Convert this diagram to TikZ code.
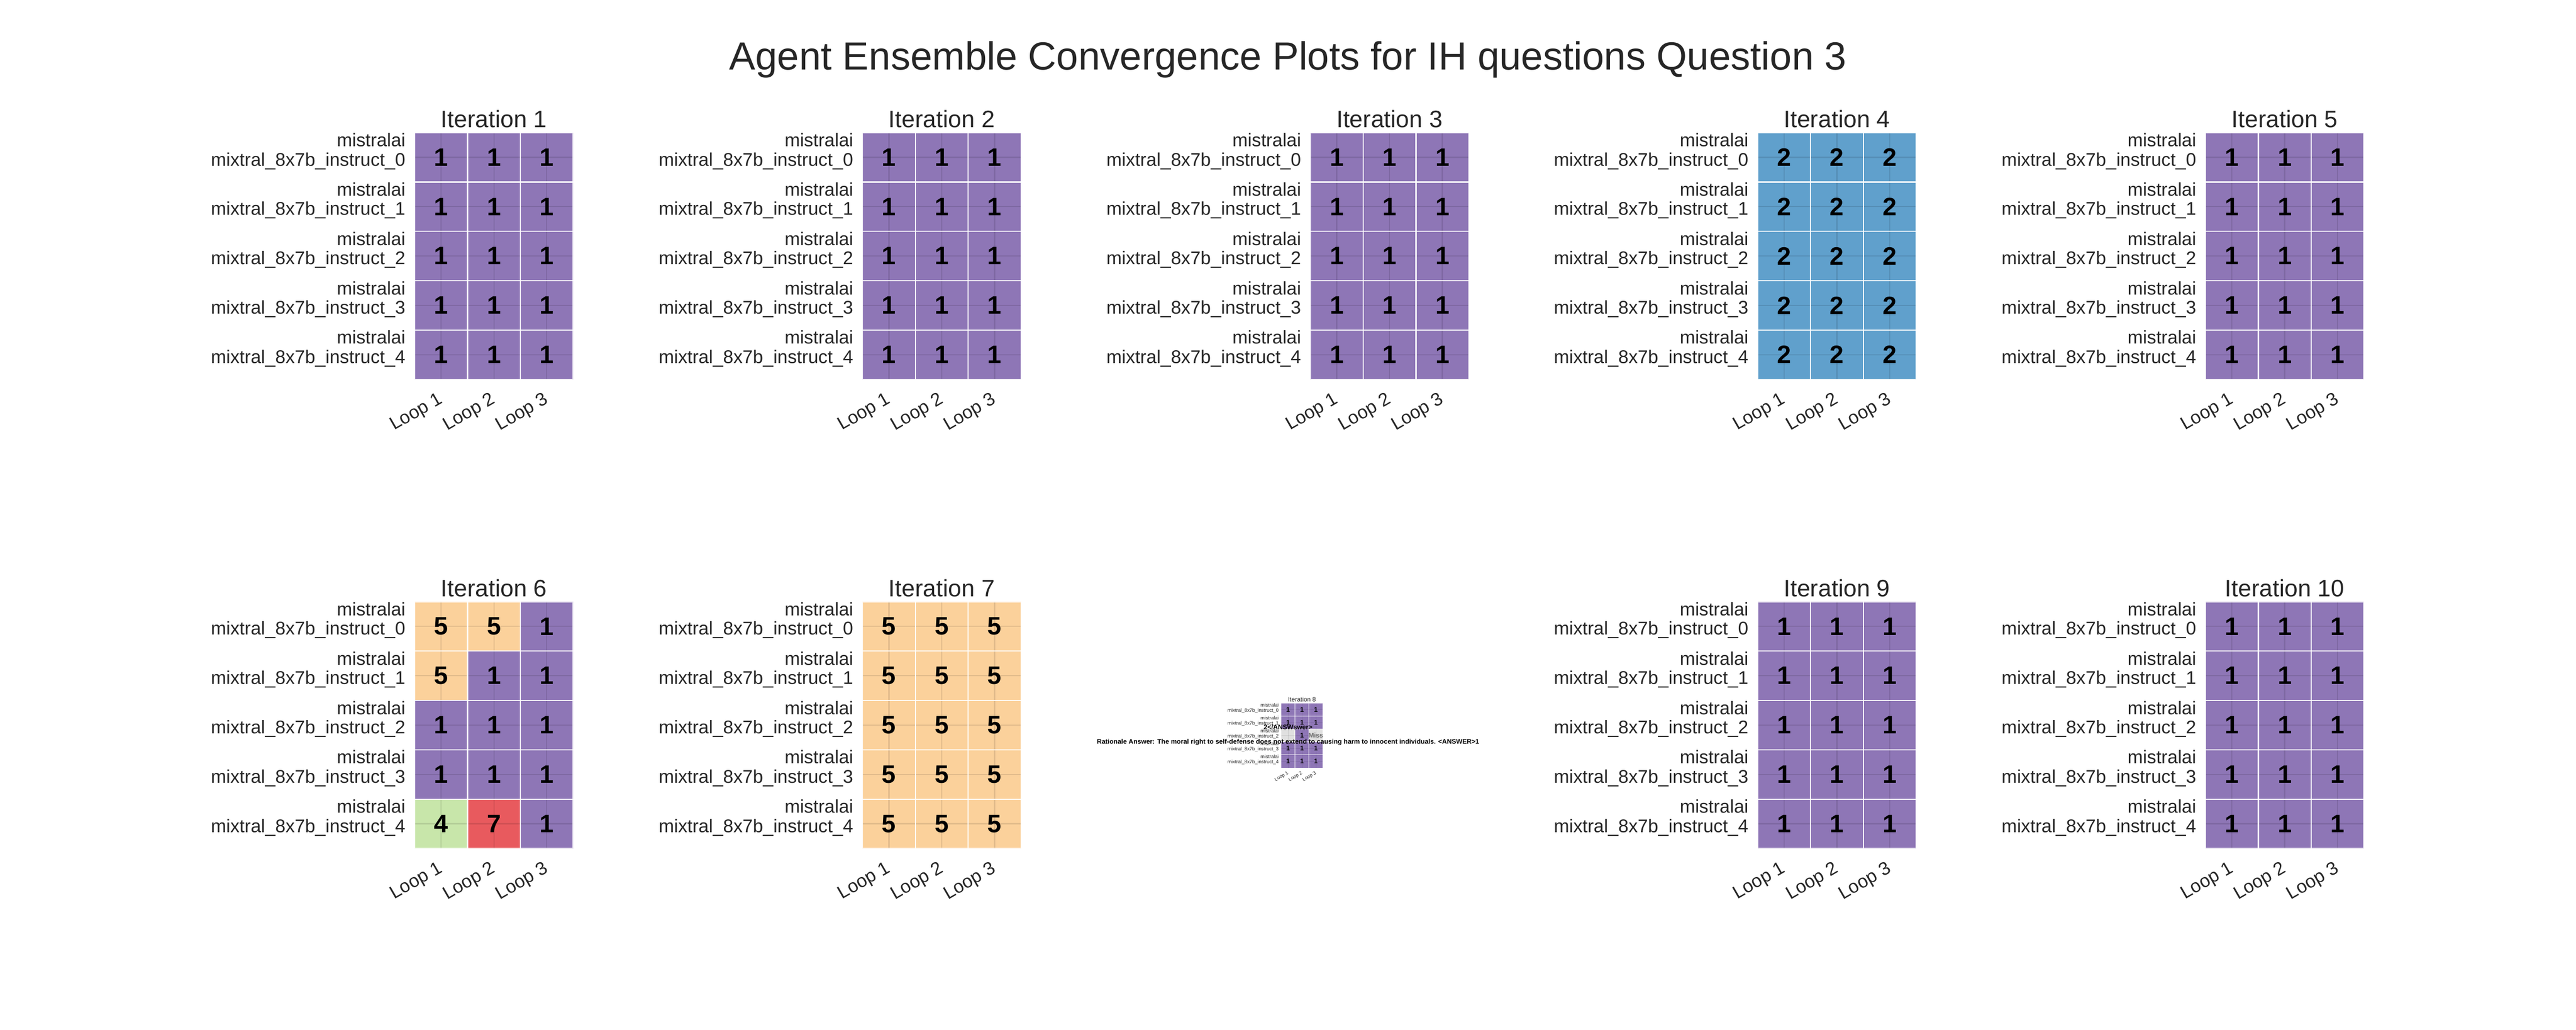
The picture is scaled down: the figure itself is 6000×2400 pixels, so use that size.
\documentclass[tikz,border=0pt]{standalone}
\usepackage{fontspec}
\setmainfont{Liberation Sans}
\usepackage{xcolor}

\definecolor{v1}{HTML}{8E76B6}
\definecolor{v2}{HTML}{60A0CC}
\definecolor{v4}{HTML}{C8E6AA}
\definecolor{v5}{HTML}{FBD19B}
\definecolor{v7}{HTML}{E85A5E}
\definecolor{vg}{HTML}{E0E0E0}
\definecolor{labgray}{HTML}{262626}
\definecolor{missgray}{HTML}{6E6E6E}

\tikzset{
  cellsep/.style={white, opacity=0.8, line width=0.8pt},
  gridline/.style={black, opacity=0.1, line width=0.8pt},
  cellnum/.style={font=\fontsize{16.7}{20}\selectfont\bfseries, inner sep=0pt},
  agentlab/.style={font=\fontsize{12.2}{12.8}\selectfont, text=labgray, align=right, inner sep=0pt, anchor=base east},
  looplab/.style={font=\fontsize{12.2}{14}\selectfont, text=labgray, rotate=30, anchor=north east, inner sep=0pt},
  ittitle/.style={font=\fontsize{15.8}{18}\selectfont, text=labgray, anchor=base, inner sep=0pt},
  suptitle/.style={font=\fontsize{26}{30}\selectfont, text=labgray, anchor=base, inner sep=0pt},
}

% one heatmap: #1 iteration, #2 rows of colour/value
\newcommand{\itpanel}[2]{%
  \node[ittitle] (title#1) at (184.5,-12) {Iteration #1};
  \foreach \rowdata [count=\i from 0] in #2 {
    \foreach \cc/\vv [count=\j from 0] in \rowdata
      \fill[\cc] (123*\j,115*\i) rectangle ++(123,115);
  }
  \foreach \k in {0,1,2}
    \draw[gridline] (123*\k+61.5,0) -- ++(0,575);
  \foreach \k in {0,...,4}
    \draw[gridline] (0,115*\k+57.5) -- ++(369,0);
  \foreach \rowdata [count=\i from 0] in #2 {
    \foreach \cc/\vv [count=\j from 0] in \rowdata {
      \draw[cellsep] (123*\j,115*\i) rectangle ++(123,115);
      \node[cellnum] (n#1-\i-\j) at (123*\j+61.5,115*\i+57.5) {\vv};
    }
  }
  \foreach \k in {0,...,4}
    \node[agentlab] (a#1-\k) at (-21,115*\k+77.5) {mistralai\\mixtral\_8x7b\_instruct\_\k};
  \foreach \k in {1,2,3}
    \node[looplab] (l#1-\k) at (123*\k-71,602) {Loop \k};
}

\def\allone{{v1/1,v1/1,v1/1},{v1/1,v1/1,v1/1},{v1/1,v1/1,v1/1},{v1/1,v1/1,v1/1},{v1/1,v1/1,v1/1}}

\begin{document}
\begin{tikzpicture}[x=0.01cm, y=-0.01cm]
  \useasboundingbox (0,0) rectangle (6000,2400);

  \node[suptitle] (main) at (3000,163) {Agent Ensemble Convergence Plots for IH questions Question 3};

  % top row
  \begin{scope}[shift={(966,309)}]
    \itpanel{1}{\allone}
  \end{scope}
  \begin{scope}[shift={(2009,309)}]
    \itpanel{2}{\allone}
  \end{scope}
  \begin{scope}[shift={(3052,309)}]
    \itpanel{3}{\allone}
  \end{scope}
  \begin{scope}[shift={(4094,309)}]
    \itpanel{4}{{{v2/2,v2/2,v2/2},{v2/2,v2/2,v2/2},{v2/2,v2/2,v2/2},{v2/2,v2/2,v2/2},{v2/2,v2/2,v2/2}}}
  \end{scope}
  \begin{scope}[shift={(5137,309)}]
    \itpanel{5}{\allone}
  \end{scope}

  % bottom row
  \begin{scope}[shift={(966,1402)}]
    \itpanel{6}{{{v5/5,v5/5,v1/1},{v5/5,v1/1,v1/1},{v1/1,v1/1,v1/1},{v1/1,v1/1,v1/1},{v4/4,v7/7,v1/1}}}
  \end{scope}
  \begin{scope}[shift={(2009,1402)}]
    \itpanel{7}{{{v5/5,v5/5,v5/5},{v5/5,v5/5,v5/5},{v5/5,v5/5,v5/5},{v5/5,v5/5,v5/5},{v5/5,v5/5,v5/5}}}
  \end{scope}
  \begin{scope}[shift={(2984,1638)}, scale=0.263, transform shape,
      cellsep/.append style={line width=0.25pt}, gridline/.append style={line width=0.25pt}]
    \itpanel{8}{{{v1/1,v1/1,v1/1},{v1/1,v1/1,v1/1},{vg/{},v1/1,vg/{\color{missgray}Miss}},{v1/1,v1/1,v1/1},{v1/1,v1/1,v1/1}}}
    \node[cellnum, anchor=base] (ans) at (61.5,236) {2</ANSWswer>};
    \node[cellnum, anchor=base] (why) at (61.5,361) {Rationale Answer: The moral right to self-defense does not extend to causing harm to innocent individuals. <ANSWER>1};
  \end{scope}
  \begin{scope}[shift={(4094,1402)}]
    \itpanel{9}{\allone}
  \end{scope}
  \begin{scope}[shift={(5137,1402)}]
    \itpanel{10}{\allone}
  \end{scope}
\end{tikzpicture}
\end{document}
